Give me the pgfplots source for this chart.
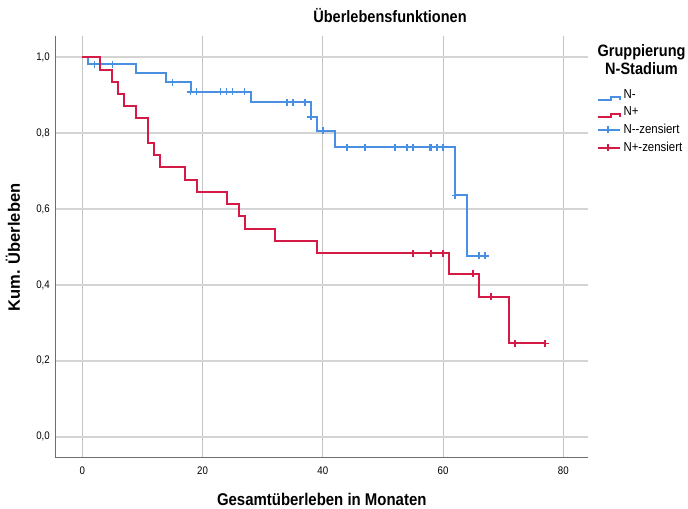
\documentclass[border=0pt]{standalone}
\usepackage{fontspec}
\setmainfont{Liberation Sans}[FakeStretch=0.88]
\newfontfamily\widefont{Liberation Sans}
\usepackage{pgfplots}
\pgfplotsset{compat=1.18}

\definecolor{kmblue}{RGB}{74,144,226}
\definecolor{kmred}{RGB}{214,26,70}
\definecolor{gridh}{RGB}{212,212,212}
\definecolor{gridv}{RGB}{196,196,196}
\definecolor{axisgray}{RGB}{110,110,110}
\newcommand\fs[1]{\fontsize{#1bp}{#1bp}\selectfont}

% Kaplan-Meier step functions (time in months, cumulative survival)
\pgfplotstableread{
t s
0 1.0000
1 0.9815
9 0.9580
14 0.9340
18 0.9090
28 0.8810
38 0.8430
39 0.8060
42 0.7630
62 0.6360
64 0.4770
67 0.4770
}\survNminus
\pgfplotstableread{
t s
0 1.0000
3 0.9677
5 0.9355
6 0.9032
7 0.8710
9 0.8387
11 0.7742
12 0.7419
13 0.7097
17 0.6774
19 0.6452
24 0.6129
26 0.5806
27 0.5484
32 0.5161
39 0.4839
61 0.4301
66 0.3687
71 0.2458
77 0.2458
}\survNplus
% censored observations
\pgfplotstableread{
t s
2 0.9815
5 0.9815
15 0.9340
18 0.9090
19 0.9090
23 0.9090
24 0.9090
25 0.9090
27 0.9090
34 0.8810
35 0.8810
37 0.8810
38 0.8430
40 0.8060
44 0.7630
47 0.7630
52 0.7630
54 0.7630
55 0.7630
57.8 0.7630
58 0.7630
59 0.7630
60 0.7630
62 0.6360
66 0.4770
67 0.4770
}\censNminus
\pgfplotstableread{
t s
55 0.4839
58 0.4839
60 0.4839
65 0.4301
68 0.3687
72 0.2458
77 0.2458
}\censNplus

\begin{document}
\begin{tikzpicture}
\useasboundingbox (0,0) rectangle (688bp,509bp);
\begin{axis}[
  at={(55.5bp,51.5bp)}, anchor=south west,
  scale only axis, width=532.5bp, height=421.5bp,
  xmin=-4.457, xmax=84.11, ymin=-0.0548, ymax=1.0561,
  clip=false,
  axis x line*=bottom, axis y line*=left,
  axis line style={axisgray, line width=1.4bp, -},
  xtick={0,20,40,60,80},
  ytick={0,0.2,0.4,0.6,0.8,1},
  major tick length=0pt,
  xmajorgrids, ymajorgrids,
  x grid style={gridv, line width=1bp},
  y grid style={gridh, line width=2bp},
  /pgf/number format/assume math mode=true,
  tick label style={font=\fs{11}},
  xticklabel style={inner sep=0pt, anchor=north, yshift=-9.2bp},
  yticklabel style={inner sep=0pt, anchor=east, xshift=-5.5bp,
    /pgf/number format/.cd, use comma, fixed, fixed zerofill, precision=1},
  title={Überlebensfunktionen},
  title style={at={(axis description cs:0.6282,1.019)}, anchor=base,
    font=\bfseries\fs{16.5}, inner sep=0pt},
  xlabel={Gesamtüberleben in Monaten},
  xlabel style={at={(axis description cs:0.5,-0.1144)}, anchor=base,
    font=\bfseries\fs{17}, inner sep=0pt},
  ylabel={Kum. Überleben},
  ylabel style={at={(axis description cs:-0.0667,0.4982)}, anchor=base,
    font=\widefont\bfseries\fs{16.5}, inner sep=0pt},
  legend style={at={(axis description cs:1.0169,0.876)}, anchor=north west,
    draw=none, fill=none, inner sep=0pt, outer sep=0pt, row sep=4.6bp,
    font=\fs{13},
    nodes={inner sep=0pt, text height=10bp, text depth=3bp},
    /tikz/every odd column/.style={column sep=2.5bp}},
  legend cell align=left,
]
\addplot[kmblue, line width=2bp, const plot, mark=none,
  legend image code/.code={\draw[kmblue, line width=2bp]
    (0bp,-5bp) -- (13bp,-5bp) -- (13bp,-2bp) -- (22bp,-2bp) -- (22bp,-5bp);}]
  table[x=t, y=s] {\survNminus};
\addlegendentry{N-}
\addplot[kmred, line width=2bp, const plot, mark=none,
  legend image code/.code={\draw[kmred, line width=2bp]
    (0bp,-5bp) -- (13bp,-5bp) -- (13bp,-2bp) -- (22bp,-2bp) -- (22bp,-5bp);}]
  table[x=t, y=s] {\survNplus};
\addlegendentry{N+}
\addplot[kmblue, only marks, mark=+, mark size=3.5bp,
  mark options={line width=1.6bp},
  legend image code/.code={\draw[kmblue, line width=2bp]
    (0bp,0bp) -- (22bp,0bp) (10bp,-3.5bp) -- (10bp,3.5bp);}]
  table[x=t, y=s] {\censNminus};
\addlegendentry{N-{}-zensiert}
\addplot[kmred, only marks, mark=+, mark size=3.5bp,
  mark options={line width=1.6bp},
  legend image code/.code={\draw[kmred, line width=2bp]
    (0bp,0bp) -- (22bp,0bp) (10bp,-3.5bp) -- (10bp,3.5bp);}]
  table[x=t, y=s] {\censNplus};
\addlegendentry{N+-zensiert}

\node[anchor=base, font=\bfseries\fs{16.5}, inner sep=0pt]
  at (axis description cs:1.1005,0.9509) {Gruppierung};
\node[anchor=base, font=\bfseries\fs{16.5}, inner sep=0pt]
  at (axis description cs:1.1005,0.9091) {N-Stadium};
\end{axis}
\end{tikzpicture}
\end{document}
